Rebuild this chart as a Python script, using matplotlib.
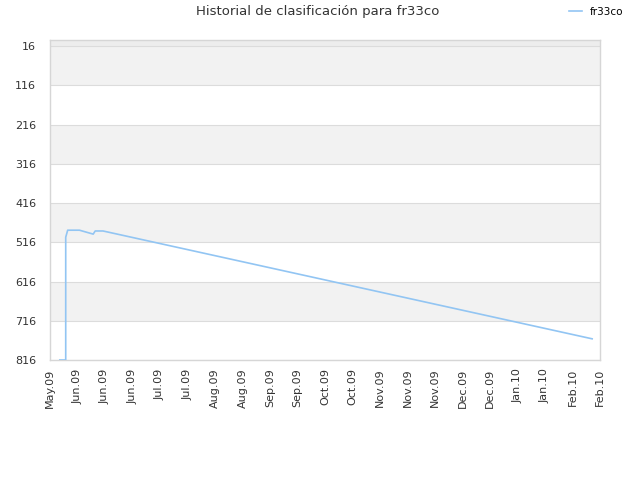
import matplotlib
matplotlib.use("Agg")
import matplotlib.pyplot as plt
import matplotlib.dates as mdates
import numpy as np
from datetime import datetime

# ---- data ----
dates = ["2009-05-23", "2009-05-26", "2009-05-26", "2009-05-27", "2009-06-02",
         "2009-06-09", "2009-06-10", "2009-06-14", "2010-02-18"]
ranks = [816, 816, 503, 485, 485, 495, 487, 487, 762]
series_name = "fr33co"
title = "Historial de clasificación para fr33co"
x_start, x_end = "2009-05-18", "2010-02-22"
x_tick_labels = ["May.09", "Jun.09", "Jun.09", "Jun.09", "Jul.09", "Jul.09", "Aug.09",
                 "Aug.09", "Sep.09", "Sep.09", "Oct.09", "Oct.09", "Nov.09", "Nov.09",
                 "Nov.09", "Dec.09", "Dec.09", "Jan.10", "Jan.10", "Feb.10", "Feb.10"]
y_ticks = [16, 116, 216, 316, 416, 516, 616, 716, 816]

plt.rcParams['font.family'] = ['DejaVu Sans']
fig = plt.figure(figsize=(6.4, 4.8), dpi=100)
ax = fig.add_axes([50/640, 1-360/480, 550/640, 320/480])

xd = [mdates.date2num(datetime.strptime(d, "%Y-%m-%d")) for d in dates]
x0 = mdates.date2num(datetime.strptime(x_start, "%Y-%m-%d"))
x1 = mdates.date2num(datetime.strptime(x_end, "%Y-%m-%d"))

# alternating bands
ax.axhspan(0, y_ticks[0], color="#ededed", zorder=0, lw=0)
for i in range(len(y_ticks)-1):
    if i % 2 == 0:
        ax.axhspan(y_ticks[i], y_ticks[i+1], color="#f2f2f2", zorder=0, lw=0)
for t in y_ticks:
    ax.axhline(t, color="#dcdcdc", lw=0.8, zorder=1)

ax.plot(xd, ranks, color="#92c5f3", lw=1.2, zorder=3, label=series_name)

ax.set_xlim(x0, x1)
ax.set_ylim(816, 0)
ax.set_yticks(y_ticks)
ax.set_yticklabels([str(t) for t in y_ticks])
ax.set_xticks(np.linspace(x0, x1, len(x_tick_labels)))
ax.set_xticklabels(x_tick_labels, rotation=90)
ax.tick_params(axis="both", length=0, labelsize=8, colors="#333333")
ax.tick_params(axis="y", pad=10)
ax.tick_params(axis="x", pad=6)
for s in ax.spines.values():
    s.set_color("#d6d6d6")
    s.set_linewidth(1)

fig.text(0.497, 0.975, title, ha="center", va="center", fontsize=9.5, color="#333333")
leg = fig.legend(loc="center left", bbox_to_anchor=(0.875, 0.975), frameon=False,
                 fontsize=7.5, handlelength=1.2, handletextpad=0.8)
fig.savefig("out.png", dpi=100, facecolor="white")
